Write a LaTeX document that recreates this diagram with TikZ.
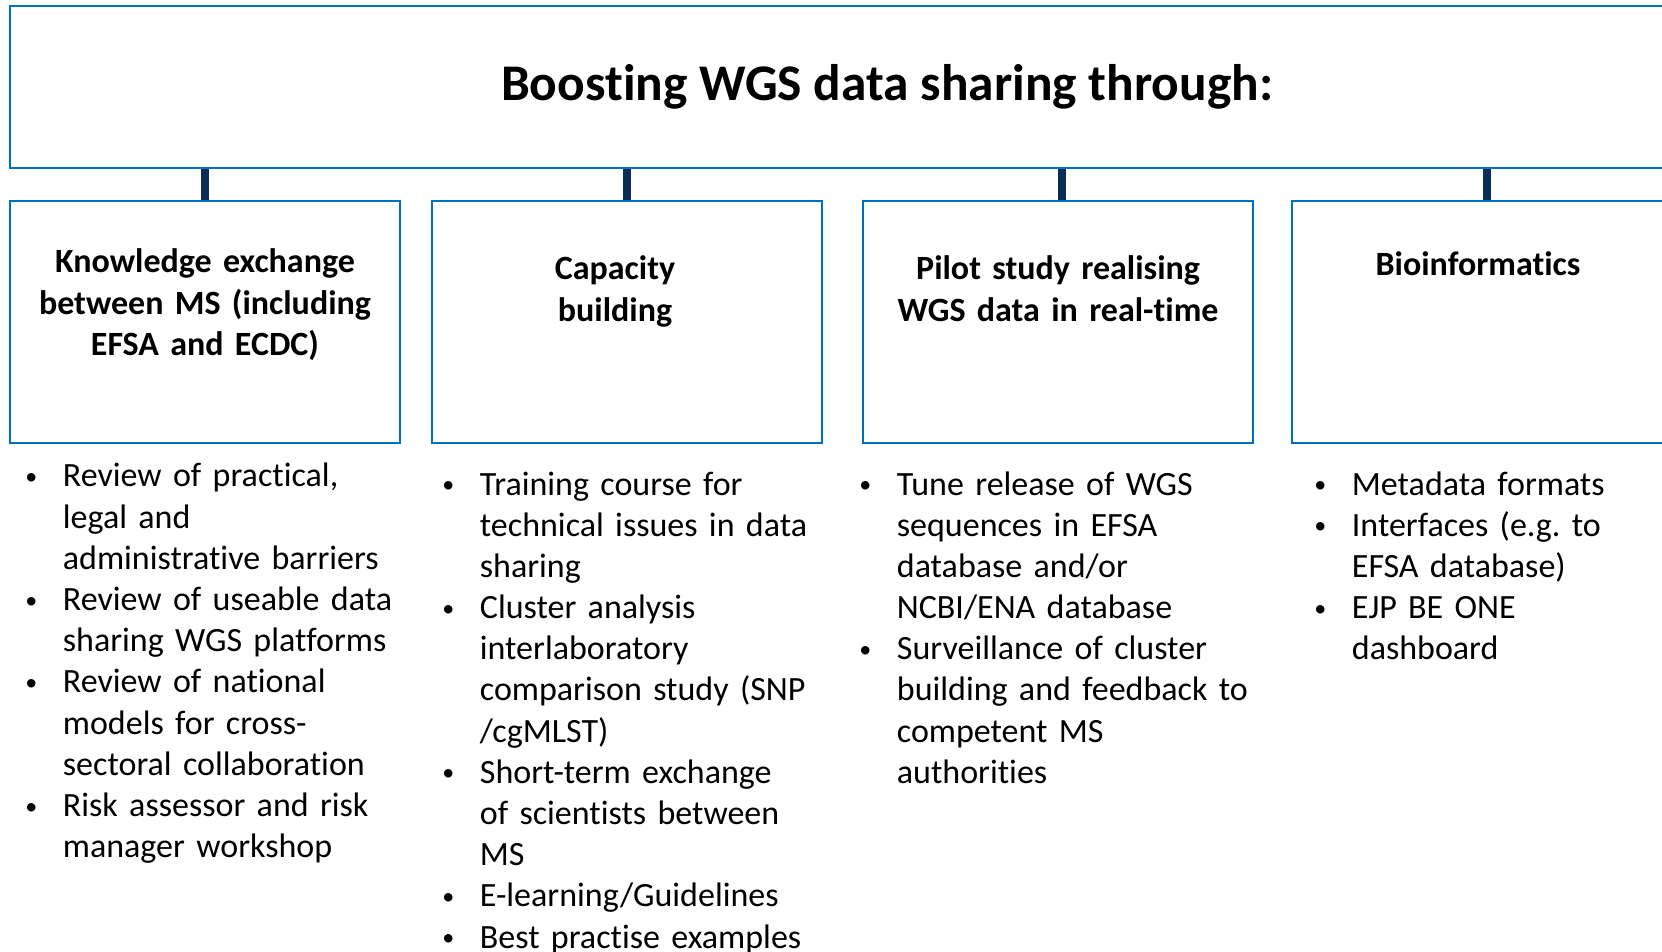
\documentclass[tikz,border=0pt]{standalone}
\usepackage{fontspec}
\setmainfont{Carlito}[Ligatures=NoCommon]
\usetikzlibrary{positioning}
\definecolor{boxblue}{HTML}{0070C0}
\definecolor{linknavy}{HTML}{0B2D55}
\newcommand{\bitem}[1]{\noindent\hangindent=16.25pt\hangafter=1%
  \makebox[16.25pt][l]{\kern-2.5pt\raisebox{1.2pt}{\fontsize{12}{12}\selectfont\textbullet}}#1\par}

\begin{document}
\begin{tikzpicture}[x=0.5pt, y=-0.5pt,
    topbox/.style={draw=boxblue, line width=1pt, minimum width=877pt, minimum height=81pt,
      font=\fontsize{25.7}{30}\selectfont\bfseries},
    catbox/.style={draw=boxblue, line width=1pt, minimum width=195pt, minimum height=121pt},
    cattitle/.style={anchor=base, inner sep=0pt, text width=190pt, align=center,
      font=\fontsize{17}{20.6}\selectfont\bfseries},
    itemlist/.style={anchor=base west, inner sep=0pt, text width=210pt, align=left,
      font=\fontsize{17}{20.6}\selectfont\frenchspacing},
    link/.style={draw=linknavy, line width=4pt}]
    \useasboundingbox (0,0) rectangle (1662,952);

    \node[topbox] (top) at (887,87) {Boosting WGS data sharing through:};

    \node[catbox] (kx) at (205,322) {};
    \node[catbox] (cap) at (627,322) {};
    \node[catbox] (pilot) at (1058,322) {};
    \node[catbox] (bio) at (1487,322) {};

    \draw[link] (top.south -| kx.north) -- (kx.north);
    \draw[link] (top.south -| cap.north) -- (cap.north);
    \draw[link] ([xshift=2pt]top.south -| pilot.north) -- ([xshift=2pt]pilot.north);
    \draw[link] (top.south -| bio.north) -- (bio.north);

    \node[cattitle] (kxtitle) at (205,273) {Knowledge exchange\\ between MS (including\\ EFSA and ECDC)};
    \node[cattitle] (captitle) at (615,280) {Capacity\\ building};
    \node[cattitle] (pilottitle) at (1058,280) {Pilot study realising\\ WGS data in real-time};
    \node[cattitle] (biotitle) at (1478,276) {Bioinformatics};

    \node[itemlist] (kxlist) at (30,487) {%
      \bitem{Review of practical,\newline legal and\newline administrative barriers}
      \bitem{Review of useable data\newline sharing WGS platforms}
      \bitem{Review of national\newline models for cross-\newline sectoral collaboration}
      \bitem{Risk assessor and risk\newline manager workshop}};
    \node[itemlist] (caplist) at (447,495) {%
      \bitem{Training course for\newline technical issues in data\newline sharing}
      \bitem{Cluster analysis\newline interlaboratory\newline comparison study (SNP\newline /cgMLST)}
      \bitem{Short-term exchange\newline of scientists between\newline MS}
      \bitem{E-learning/Guidelines}
      \bitem{Best practise examples}};
    \node[itemlist] (pilotlist) at (864,495) {%
      \bitem{Tune release of WGS\newline sequences in EFSA\newline database and/or\newline NCBI/ENA database}
      \bitem{Surveillance of cluster\newline building and feedback to\newline competent MS\newline authorities}};
    \node[itemlist] (biolist) at (1319,495) {%
      \bitem{Metadata formats}
      \bitem{Interfaces (e.g. to\newline EFSA database)}
      \bitem{EJP BE ONE\newline dashboard}};
\end{tikzpicture}
\end{document}
